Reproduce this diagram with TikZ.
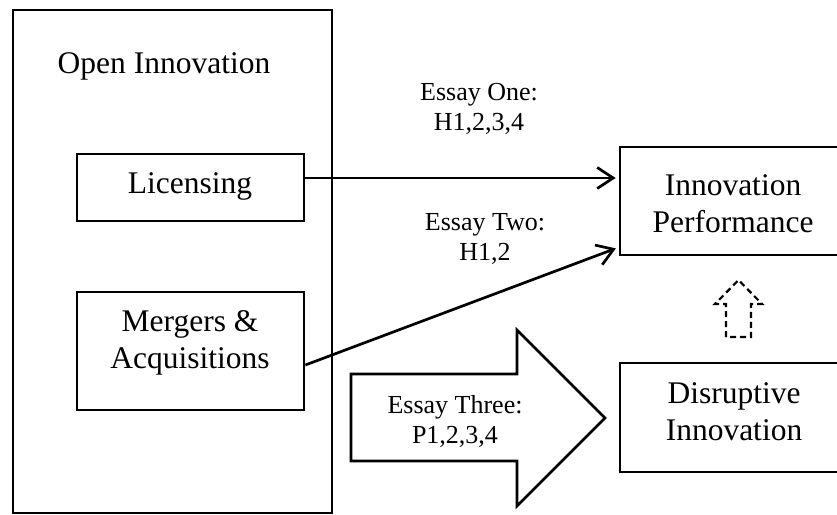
\documentclass[tikz,border=0pt]{standalone}
\usepackage{fontspec}
\setmainfont{Liberation Serif}
\usetikzlibrary{arrows.meta}
\tikzset{
  x=1pt, y=-1pt,
  frame/.style={draw, line width=2.7pt, inner sep=0pt},
  biglabel/.style={font=\fontsize{31.5}{36.5}\selectfont, align=center, anchor=base, inner sep=0pt},
  smalllabel/.style={font=\fontsize{26}{30}\selectfont, align=center, anchor=base, inner sep=0pt},
  link/.style={line width=2.7pt, -{Straight Barb[length=16pt,width=21pt,line width=2.7pt]}, shorten >=3pt},
}
\begin{document}
\begin{tikzpicture}
\useasboundingbox (0,0) rectangle (837,514);
\clip (0,0) rectangle (837,514);

% boxes
\node[frame, minimum width=319pt, minimum height=503pt] (open) at (172.5,261.5) {};
\node[frame, minimum width=227pt, minimum height=67pt]  (lic)  at (190.5,187.5) {};
\node[frame, minimum width=227pt, minimum height=118pt] (ma)   at (190.5,351) {};
\node[frame, minimum width=280pt, minimum height=108pt] (perf) at (760,201) {};
\node[frame, minimum width=280pt, minimum height=109pt] (dis)  at (760,417.5) {};

% box texts (multi-line nodes are placed by their last baseline)
\node[biglabel] (opent) at (164,73) {Open Innovation};
\node[biglabel] (lict)  at (190,193) {Licensing};
\node[biglabel] (mat)   at (190,368) {Mergers \&\\Acquisitions};
\node[biglabel] (perft) at (733,232) {Innovation\\Performance};
\node[biglabel] (dist)  at (734,440) {Disruptive\\Innovation};

% connectors
\coordinate (licout) at ([yshift=9.5pt]lic.east);
\draw[link] (licout) -- (licout -| perf.west);
\draw[link] ([yshift=-14pt]ma.east) -- ([yshift=9pt]perf.south west);

% essay labels
\node[smalllabel] (e1) at (479,130) {Essay One:\\H1,2,3,4};
\node[smalllabel] (e2) at (485,260) {Essay Two:\\H1,2};

% large block arrow
\draw[line width=2.7pt, line join=miter]
  (351,374) -- (517,374) -- (517,330) -- (605,418) -- (517,506) -- (517,461) -- (351,461) -- cycle;
\node[smalllabel] (e3) at (455,443) {Essay Three:\\P1,2,3,4};

% dashed up arrow
\draw[line width=2.2pt, dash pattern=on 6pt off 4pt, line join=miter]
  (726,337) -- (726,304) -- (715,304) -- (738.5,280) -- (762,304) -- (751,304) -- (751,337) -- cycle;
\end{tikzpicture}
\end{document}
